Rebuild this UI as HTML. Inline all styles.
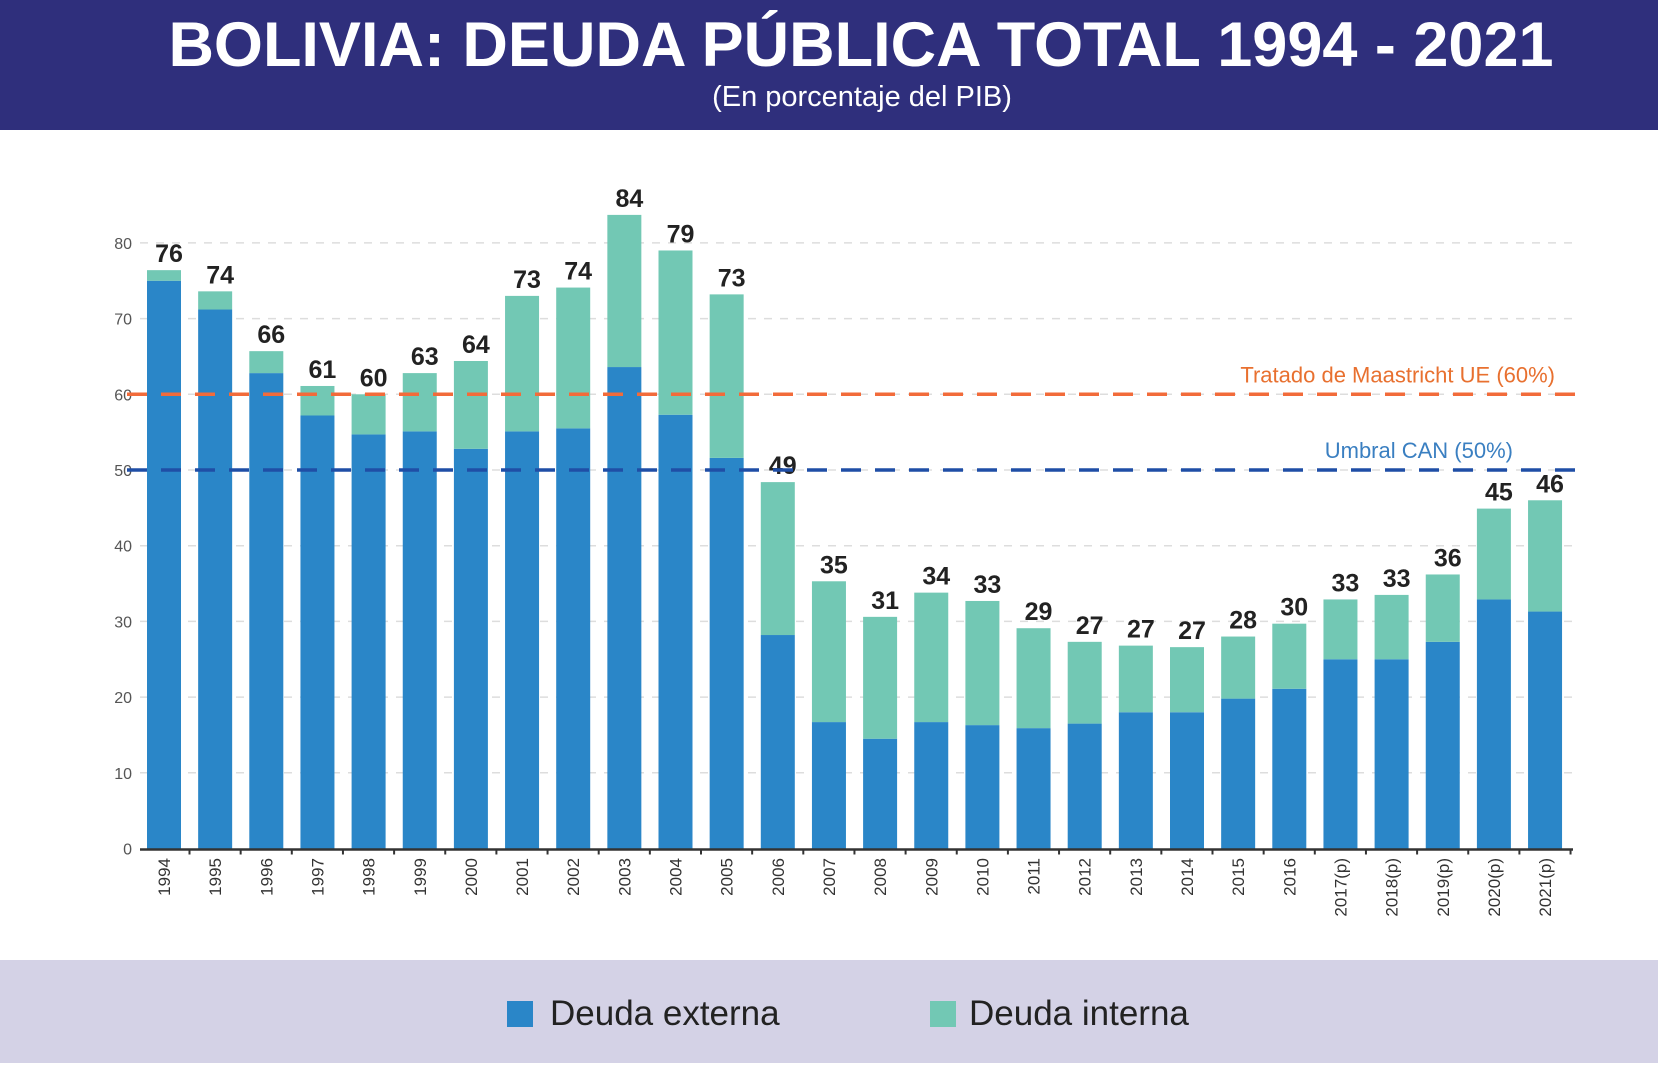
<!DOCTYPE html>
<html><head><meta charset="utf-8"><style>
body{margin:0;width:1658px;height:1063px;overflow:hidden;background:#fff;font-family:"Liberation Sans",sans-serif}
</style></head><body>
<svg width="1658" height="1063" xmlns="http://www.w3.org/2000/svg">
<rect x="0" y="0" width="1658" height="130" fill="#2f2f7c"/>
<text x="861" y="66" text-anchor="middle" font-size="63" font-weight="bold" fill="#fff">BOLIVIA: DEUDA PÚBLICA TOTAL 1994 - 2021</text>
<text x="862" y="106" text-anchor="middle" font-size="29" fill="#fff">(En porcentaje del PIB)</text>
<rect x="0" y="960" width="1658" height="103" fill="#d4d2e6"/>
<g id="plot"></g>
<rect x="507" y="1001" width="26" height="26" fill="#2a86c8"/>
<text x="550" y="1025" font-size="35" fill="#222">Deuda externa</text>
<rect x="930" y="1001" width="26" height="26" fill="#72c8b4"/>
<text x="969" y="1025" font-size="35" fill="#222">Deuda interna</text>
</svg>
<script>
const years=["1994","1995","1996","1997","1998","1999","2000","2001","2002","2003","2004","2005","2006","2007","2008","2009","2010","2011","2012","2013","2014","2015","2016","2017(p)","2018(p)","2019(p)","2020(p)","2021(p)"];
const externa=[75,71.2,62.8,57.2,54.7,55.1,52.8,55.1,55.5,63.6,57.3,51.6,28.2,16.7,14.5,16.7,16.3,15.9,16.5,18,18,19.8,21.1,25,25,27.3,32.9,31.3];
const total=[76.4,73.6,65.7,61.1,60,62.8,64.4,73,74.1,83.7,79,73.2,48.4,35.3,30.6,33.8,32.7,29.1,27.3,26.8,26.6,28,29.7,32.9,33.5,36.2,44.9,46];
const labels=["76","74","66","61","60","63","64","73","74","84","79","73","49","35","31","34","33","29","27","27","27","28","30","33","33","36","45","46"];
const yTicks=[0,10,20,30,40,50,60,70,80];
const NS="http://www.w3.org/2000/svg";
const g=document.getElementById('plot');
const y=v=>848.5-v*7.57;
const x=i=>164+i*51.15;
const bw=34;
function mk(t,a,txt){const e=document.createElementNS(NS,t);for(const k in a)e.setAttribute(k,a[k]);if(txt!=null)e.textContent=txt;g.appendChild(e);return e;}
yTicks.forEach(v=>{
 if(v>0){const l=mk('line',{x1:140,x2:1573,y1:y(v),y2:y(v),stroke:'#ddd','stroke-width':1.5,'stroke-dasharray':'8 8'});
 
 }
 const t=mk('text',{x:132,y:y(v)+6,'text-anchor':'end','font-size':16,fill:'#555'},String(v));
 
 
});
years.forEach((yr,i)=>{
 const cx=x(i);
 const b=mk('rect',{x:cx-bw/2,y:y(externa[i]),width:bw,height:y(0)-y(externa[i]),fill:'#2a86c8'});
 
 
 const b2=mk('rect',{x:cx-bw/2,y:y(total[i]),width:bw,height:y(externa[i])-y(total[i]),fill:'#72c8b4'});
 
 
 const lb=mk('text',{x:cx+5,y:y(total[i])-8,'text-anchor':'middle','font-size':25,'font-weight':'bold',fill:'#222'},labels[i]);
 
 
 const yl=mk('text',{transform:`translate(${cx+6},858) rotate(-90)`,'text-anchor':'end','font-size':17,fill:'#333'},yr);
 
 
 const tk=mk('line',{x1:cx+25.5,x2:cx+25.5,y1:y(0),y2:y(0)+6,stroke:'#333','stroke-width':2});
 
 
});
const ax=mk('line',{x1:140,x2:1573,y1:y(0)+1,y2:y(0)+1,stroke:'#333','stroke-width':2.5});


const l60=mk('line',{x1:127,x2:1575,y1:y(60),y2:y(60),stroke:'#f26b3a','stroke-width':3.5,'stroke-dasharray':'20 14'});


const l50=mk('line',{x1:127,x2:1575,y1:y(50),y2:y(50),stroke:'#1f4ea6','stroke-width':3.5,'stroke-dasharray':'20 14'});


const a1=mk('text',{x:1555,y:y(60)-12,'text-anchor':'end','font-size':22,fill:'#e8702f'},'Tratado de Maastricht UE (60%)');


const a2=mk('text',{x:1513,y:y(50)-12,'text-anchor':'end','font-size':22,fill:'#3a7fc1'},'Umbral CAN (50%)');


</script>
</body></html>
